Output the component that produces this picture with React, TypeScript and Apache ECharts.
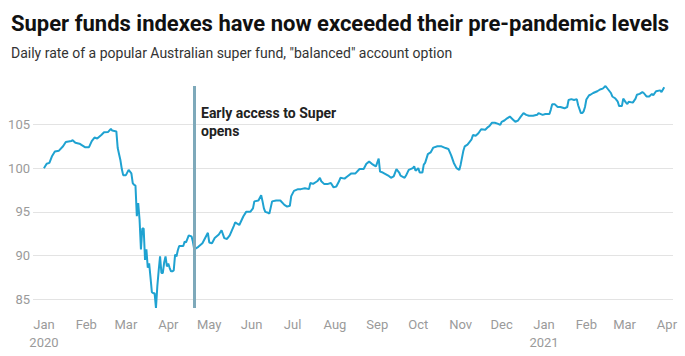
import React, { useEffect, useRef } from "react";
import * as echarts from "echarts";

// Days since 1 Jan 2020 and the fund's daily index value
const dayOffsets = [
  0, 2, 4, 6, 8, 11, 14, 16, 20, 21, 23, 26, 28, 30, 33, 35, 37, 39, 42, 44, 47, 49, 50, 53,
  54, 55, 56, 57, 58, 60, 62, 63, 64, 65, 66, 67, 68, 69, 70, 71, 72, 73, 74, 75, 76, 77, 78,
  79, 80, 81, 82, 83, 84, 85, 86, 87, 88, 89, 90, 91, 92, 93, 94, 95, 96, 97, 98, 99, 102, 103,
  104, 106, 108, 109, 110, 113, 116, 118, 120, 121, 123, 125, 128, 130, 132, 134, 136, 139, 140,
  143, 146, 148, 151, 153, 154, 157, 159, 160, 161, 162, 164, 165, 167, 170, 173, 176, 178, 180,
  181, 183, 186, 188, 191, 194, 195, 197, 200, 202, 203, 205, 208, 210, 212, 214, 216, 217, 220,
  222, 225, 228, 231, 234, 236, 238, 240, 242, 243, 245, 246, 248, 252, 254, 256, 258, 260, 261,
  264, 265, 267, 270, 271, 272, 274, 275, 277, 278, 279, 281, 283, 285, 288, 291, 294, 296, 298,
  300, 302, 304, 305, 306, 307, 308, 310, 311, 313, 314, 316, 318, 320, 323, 325, 326, 328, 330,
  332, 334, 335, 337, 339, 341, 343, 345, 347, 349, 351, 353, 355, 358, 361, 362, 365, 367, 370,
  371, 372, 374, 376, 378, 381, 383, 384, 386, 388, 390, 391, 393, 394, 395, 396, 397, 399, 400,
  402, 405, 407, 409, 411, 413, 415, 416, 418, 420, 421, 423, 424, 426, 427, 428, 431, 433, 434,
  436, 438, 439, 441, 443, 445, 446, 448, 451, 452, 454,
];

const indexValues = [
  100.0, 100.5, 100.6, 101.4, 101.9, 102.0, 102.5, 103.0, 103.1, 103.2, 102.9, 102.8, 102.6, 102.4,
  102.4, 103.1, 103.5, 103.4, 103.8, 104.1, 104.15, 104.5, 104.3, 104.2,
  102.3, 101.6, 100.9, 99.9, 99.2, 99.2, 99.8, 99.6, 99.4, 98.3, 98.1, 98.0, 94.5, 96.0, 94.1, 90.7,
  93.1, 93.1, 89.5, 90.7, 88.6, 89.1, 87.5,
  85.8, 85.7, 85.7, 84.0, 86.5, 88.3, 89.9, 88.0, 88.0, 89.2, 89.9, 88.75, 89.1, 88.6, 88.2, 88.2,
  88.3, 90.1, 89.9, 90.6, 91.1, 91.1, 91.6,
  91.5, 92.3, 92.2, 91.6, 90.7, 91.0, 91.4, 92.0, 92.6, 91.5, 91.4, 92.0, 92.4, 92.9, 92.0, 91.9,
  92.3, 93.4, 93.8,
  93.5, 94.5, 95.0, 95.0, 95.4, 96.2, 96.3, 96.9, 96.2, 95.4, 95.0, 94.9, 94.8, 96.2, 96.3, 96.3,
  95.8, 95.6, 95.7,
  96.8, 97.4, 97.6, 97.6, 97.7, 97.6, 98.3, 98.2, 98.5, 98.9, 98.5, 98.2, 98.2, 98.3, 97.8, 97.9,
  98.5, 98.9, 98.8,
  99.05, 99.4, 99.4, 99.9, 99.9, 100.5, 100.75, 100.5, 100.3, 100.2, 101.1, 99.6, 99.5, 99.15,
  98.9, 99.05, 99.9, 99.5, 99.15,
  98.9, 99.15, 99.8, 100.0, 100.2, 99.7, 100.0, 99.5, 99.5, 100.4, 100.6, 101.6, 101.8, 102.35,
  102.5, 102.5, 102.3, 102.2, 101.5,
  100.6, 100.0, 99.8, 100.4, 101.2, 102.0, 102.5, 102.7, 102.9, 103.3, 103.8, 103.7, 104.0, 104.45,
  104.4, 104.7, 104.8, 105.2, 105.2,
  105.1, 104.95, 105.3, 105.45, 105.7, 105.9, 105.6, 105.3, 105.45, 105.9, 106.3, 106.1, 106.0,
  106.0, 106.1, 106.3, 106.1, 106.2, 106.2,
  106.7, 107.3, 107.3, 107.0, 107.0, 106.85, 107.0, 107.8, 107.9, 107.8, 107.9, 107.2, 106.3,
  106.3, 106.5, 107.0, 107.85, 108.35, 108.4,
  108.6, 108.8, 109.0, 109.1, 109.4, 109.0, 108.6, 108.2, 108.0, 107.6, 107.1, 107.1, 107.95,
  107.5, 107.35, 107.6, 107.5, 107.95, 108.4,
  108.5, 108.7, 108.6, 108.2, 108.2, 108.5, 108.35, 108.8, 108.9, 108.7, 109.25,
];

const monthLabels = ["Jan", "Feb", "Mar", "Apr", "May", "Jun", "Jul", "Aug", "Sep", "Oct", "Nov", "Dec"];

const titleText = "Super funds indexes have now exceeded their pre-pandemic levels";
const subtitleText = 'Daily rate of a popular Australian super fund, "balanced" account option';
const annotationText = "Early access to Super\nopens";
const annotationDate = new Date(2020, 3, 20).getTime();

const FONT = "Roboto, 'Noto Sans', sans-serif";
const NARROW = "'Liberation Sans Narrow', Roboto, sans-serif";

export default function App() {
  const ref = useRef<HTMLDivElement>(null);

  useEffect(() => {
    document.body.style.margin = "0";
    if (!ref.current) return;
    const chart = echarts.init(ref.current, undefined, { renderer: "svg" });

    const seriesData = dayOffsets.map((d, i) => [new Date(2020, 0, 1 + d).getTime(), indexValues[i]]);

    chart.setOption({
      animation: false,
      backgroundColor: "#ffffff",
      textStyle: { fontFamily: FONT },
      title: {
        text: titleText,
        subtext: subtitleText,
        left: 6,
        top: 7,
        itemGap: 12,
        textStyle: { fontFamily: FONT, fontSize: 22, fontWeight: "bold", color: "#111111" },
        subtextStyle: { fontFamily: FONT, fontSize: 14, color: "#333333" },
      },
      grid: { left: 33, right: 12, top: 86, bottom: 48 },
      xAxis: {
        type: "time",
        min: new Date(2019, 11, 24).getTime(),
        max: new Date(2021, 3, 5, 10).getTime(),
        splitNumber: 15,
        minInterval: 28 * 86400000,
        maxInterval: 31 * 86400000,
        axisLine: { show: false },
        axisTick: { show: false },
        splitLine: { show: false },
        axisLabel: {
          showMinLabel: false,
          showMaxLabel: false,
          margin: 7,
          fontSize: 13,
          lineHeight: 18,
          color: "#9a9a9a",
          fontFamily: NARROW,
          hideOverlap: false,
          formatter: (value: number) => {
            const d = new Date(value);
            const m = monthLabels[d.getMonth()];
            return d.getMonth() === 0 ? m + "\n" + d.getFullYear() : m;
          },
        },
      },
      yAxis: {
        type: "value",
        min: "dataMin",
        max: "dataMax",
        splitNumber: 5,
        axisLine: { show: false },
        axisTick: { show: false },
        splitLine: {
          show: true,
          showMinLine: false,
          showMaxLine: false,
          lineStyle: { color: "#e3e3e3", width: 1 },
        },
        axisLabel: {
          showMinLabel: false,
          showMaxLabel: false,
          margin: 3,
          fontSize: 13,
          color: "#9a9a9a",
          fontFamily: FONT,
        },
      },
      series: [
        {
          type: "line",
          data: seriesData,
          showSymbol: false,
          symbol: "none",
          lineStyle: { color: "#1fa2d1", width: 2 },
          itemStyle: { color: "#1fa2d1" },
          markLine: {
            silent: true,
            symbol: "none",
            label: { show: false },
            lineStyle: { color: "#7ea9ba", width: 3, type: "solid" },
            data: [{ xAxis: annotationDate }],
          },
        },
      ],
      graphic: [
        {
          type: "text",
          left: 201,
          top: 104,
          style: {
            text: annotationText,
            font: `bold 14px ${FONT}`,
            lineHeight: 18,
            fill: "#222222",
          },
        },
      ],
    });

    return () => chart.dispose();
  }, []);

  return <div ref={ref} style={{ width: 685, height: 356 }} />;
}
